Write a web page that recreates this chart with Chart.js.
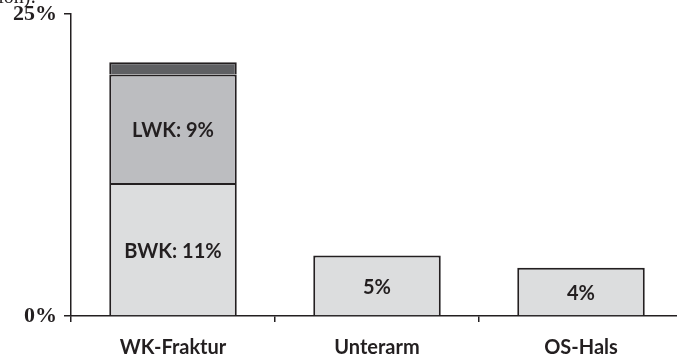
<!DOCTYPE html>
<html>
<head>
<meta charset="utf-8">
<script src="https://cdn.jsdelivr.net/npm/chart.js@4/dist/chart.umd.min.js"></script>
<style>
  html, body { margin: 0; padding: 0; background: #fff; overflow: hidden; }
  #wrap { width: 677px; height: 358px; overflow: hidden; position: relative; }
  #c { position: absolute; left: 0; top: 0; }
</style>
</head>
<body>
<div id="wrap"><canvas id="c" width="690" height="358"></canvas></div>
<script>
// Fracture sites and their share in percent
const categories = ['WK-Fraktur', 'Unterarm', 'OS-Hals'];
const baseValues  = [11, 5, 4];        // BWK part of vertebral fractures; single bars otherwise
const lwkValues   = [9, null, null];   // LWK part of vertebral fractures
const restValues  = [1, null, null];   // remaining vertebral fractures
const baseNames   = ['BWK: ', '', ''];
const lwkNames    = ['LWK: ', '', ''];
const yTickValues = [0, 25];

const INK = '#231f20';
const sans = 'Lato, "Open Sans", sans-serif';
const serif = '"Liberation Serif", "DejaVu Serif", serif';

// Writes each segment's value inside the segment
const segmentLabels = {
  id: 'segmentLabels',
  afterDatasetsDraw(chart) {
    const ctx = chart.ctx;
    ctx.save();
    ctx.fillStyle = INK;
    ctx.font = 'bold 20px ' + sans;
    ctx.textAlign = 'center';
    ctx.textBaseline = 'middle';
    chart.data.datasets.forEach((ds, di) => {
      if (!ds.labelNames) return;
      const meta = chart.getDatasetMeta(di);
      meta.data.forEach((el, i) => {
        const v = ds.data[i];
        if (v == null) return;
        const p = el.getProps(['x', 'y', 'base'], true);
        ctx.fillText(ds.labelNames[i] + v + '%', p.x, (p.y + p.base) / 2 + 2);
      });
    });
    ctx.restore();
  }
};

// Caption line running above the plot
const caption = {
  id: 'caption',
  afterDraw(chart) {
    const ctx = chart.ctx;
    ctx.save();
    ctx.fillStyle = INK;
    ctx.font = '20px ' + serif;
    ctx.textAlign = 'right';
    ctx.textBaseline = 'alphabetic';
    ctx.fillText('(in Prozent der Population):', 36, 3);
    ctx.restore();
  }
};

new Chart(document.getElementById('c'), {
  type: 'bar',
  data: {
    labels: categories,
    datasets: [
      { data: baseValues, labelNames: baseNames, backgroundColor: '#dcddde' },
      { data: lwkValues, labelNames: lwkNames, backgroundColor: '#bcbdc0' },
      { data: restValues, backgroundColor: '#5f6063' }
    ].map(d => Object.assign({
      borderColor: INK,
      borderWidth: 2,
      barPercentage: 0.625,
      categoryPercentage: 1
    }, d))
  },
  options: {
    responsive: false,
    animation: false,
    devicePixelRatio: 1,
    layout: { padding: { top: 14, left: 0, right: 7, bottom: 0 } },
    plugins: { legend: { display: false }, tooltip: { enabled: false } },
    scales: {
      x: {
        stacked: true,
        grid: { offset: true, drawOnChartArea: false, drawTicks: true, tickLength: 6, color: INK, lineWidth: 1.5 },
        border: { display: true, color: INK, width: 1.5 },
        ticks: { color: INK, font: { family: sans, size: 20, weight: 'bold' }, padding: 14 },
        afterFit(s) { s.height = 42; s.paddingLeft = 0; s.paddingRight = 0; }
      },
      y: {
        stacked: true,
        min: 0,
        max: 25,
        afterBuildTicks(s) { s.ticks = yTickValues.map(v => ({ value: v })); },
        grid: { drawOnChartArea: false, drawTicks: true, tickLength: 7, color: INK, lineWidth: 1.5 },
        border: { display: true, color: INK, width: 1.5 },
        ticks: { color: INK, font: { family: serif, size: 22, weight: 'bold' }, padding: 7, callback: v => v + '%' },
        afterFit(s) { s.width = 71; s.paddingTop = 0; s.paddingBottom = 0; }
      }
    }
  },
  plugins: [segmentLabels, caption]
});
</script>
</body>
</html>
